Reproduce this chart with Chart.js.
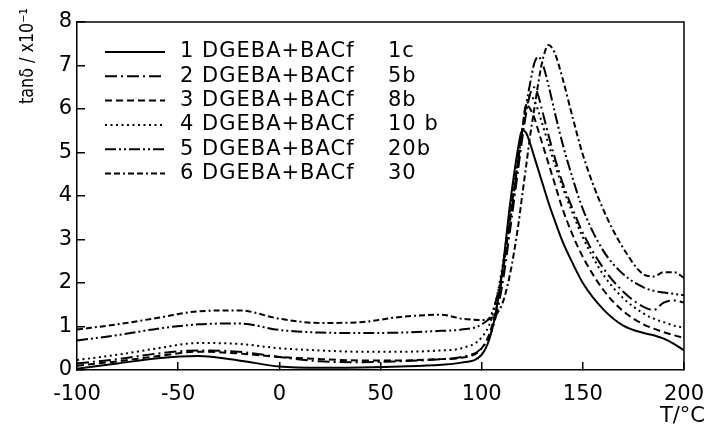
<!DOCTYPE html>
<html>
<head>
<meta charset="utf-8">
<script src="https://cdn.jsdelivr.net/npm/chart.js@4.4.1/dist/chart.umd.min.js"></script>
<style>
    html, body { margin: 0; padding: 0; background: #fff; }
    canvas { display: block; }
</style>
</head>
<body>
<canvas id="tanDeltaChart" width="708" height="436"></canvas>
<script>
const temps = [-100, -80, -60, -40, -20, 0, 20, 40, 60, 80, 90, 100, 105, 110, 114, 118, 120, 122, 124, 126,
    128, 130, 133, 136, 140, 145, 150, 160, 170, 180, 185, 190, 195, 200];

// tan delta (x10^-1) for each sample
const tan1c = [0.03, 0.15, 0.27, 0.32, 0.22, 0.08, 0.05, 0.06, 0.08, 0.12, 0.17, 0.35, 0.9, 2.2, 3.8, 5.1, 5.52, 5.45, 5.2, 4.9,
    4.6, 4.3, 3.85, 3.45, 2.95, 2.45, 2.0, 1.4, 1.02, 0.85, 0.8, 0.72, 0.6, 0.45];
const tan5b = [0.15, 0.25, 0.38, 0.45, 0.42, 0.3, 0.2, 0.18, 0.2, 0.25, 0.3, 0.5, 0.9, 1.9, 3.2, 4.6, 5.3, 5.9, 6.35, 6.5,
    6.3, 5.95, 5.4, 4.9, 4.3, 3.7, 3.15, 2.35, 1.8, 1.45, 1.38, 1.55, 1.6, 1.55];
const tan8b = [0.1, 0.2, 0.32, 0.42, 0.38, 0.3, 0.25, 0.22, 0.22, 0.25, 0.28, 0.5, 1.0, 2.1, 3.5, 4.8, 5.5, 6.1, 6.0, 5.8,
    5.5, 5.2, 4.75, 4.3, 3.7, 3.1, 2.6, 1.85, 1.35, 1.05, 0.95, 0.87, 0.8, 0.74];
const tan10b = [0.23, 0.35, 0.5, 0.62, 0.6, 0.5, 0.45, 0.42, 0.42, 0.45, 0.5, 0.75, 1.2, 2.3, 3.6, 4.9, 5.5, 6.0, 6.3, 6.2,
    5.95, 5.65, 5.2, 4.75, 4.2, 3.6, 3.05, 2.2, 1.65, 1.3, 1.18, 1.1, 1.02, 0.97];
const tan20b = [0.68, 0.8, 0.95, 1.05, 1.07, 0.92, 0.86, 0.85, 0.86, 0.9, 0.93, 1.05, 1.3, 2.2, 3.4, 4.8, 5.5, 6.1, 6.6, 7.05,
    7.2, 7.05, 6.55, 5.95, 5.2, 4.4, 3.7, 2.75, 2.2, 1.9, 1.82, 1.78, 1.75, 1.72];
const tan30 = [0.93, 1.05, 1.2, 1.35, 1.37, 1.18, 1.08, 1.1, 1.22, 1.27, 1.18, 1.15, 1.2, 1.5, 2.2, 3.3, 4.0, 4.7, 5.4, 6.0,
    6.6, 7.1, 7.47, 7.3, 6.7, 5.8, 4.95, 3.7, 2.8, 2.2, 2.15, 2.25, 2.25, 2.12];

const sampleNames = ["1 DGEBA+BACf", "2 DGEBA+BACf", "3 DGEBA+BACf", "4 DGEBA+BACf", "5 DGEBA+BACf", "6 DGEBA+BACf"];
const cureCodes = ["1c", "5b", "8b", "10 b", "20b", "30"];
const xTicks = [-100, -50, 0, 50, 100, 150, 200];
const yTicks = [0, 1, 2, 3, 4, 5, 6, 7, 8];

const seriesValues = [tan1c, tan5b, tan8b, tan10b, tan20b, tan30];
// line styles: solid, long dash-dot, dashed, dotted, dash-dot-dot, short dash-dot
const dashes = [[], [12, 4, 2, 4], [7, 4], [2, 3.5], [11, 3, 2, 3, 2, 3], [6, 3, 6, 3, 2, 3]];

const FONT = '"DejaVu Sans", "Liberation Sans", sans-serif';

// frame, legend and axis titles
const decorPlugin = {
    id: 'decor',
    afterDraw(chart) {
        const ctx = chart.ctx;
        const a = chart.chartArea;
        ctx.save();
        ctx.strokeStyle = '#000';
        ctx.fillStyle = '#000';
        ctx.lineWidth = 1.5;
        ctx.beginPath();
        ctx.moveTo(a.left, a.top);
        ctx.lineTo(a.right, a.top);
        ctx.lineTo(a.right, a.bottom);
        ctx.stroke();

        ctx.font = '21px ' + FONT;
        ctx.letterSpacing = '1px';
        ctx.textBaseline = 'middle';
        chart.data.datasets.forEach((ds, i) => {
            const y = 52 + i * 24.3;
            ctx.lineWidth = 2;
            ctx.setLineDash(ds.borderDash);
            ctx.beginPath();
            ctx.moveTo(105, y);
            ctx.lineTo(165, y);
            ctx.stroke();
            ctx.setLineDash([]);
            ctx.fillText(sampleNames[i], 180, y);
            ctx.fillText(cureCodes[i], 388, y);
        });
        ctx.letterSpacing = '0px';

        // x title
        ctx.textAlign = 'right';
        ctx.font = '21px ' + FONT;
        ctx.fillText("T/\u00B0C", 705, 417);

        // y title, a bit condensed like the figure's lettering
        ctx.translate(28, 104);
        ctx.rotate(-Math.PI / 2);
        ctx.textAlign = 'left';
        ctx.font = '19px ' + FONT;
        const yTitle = "tan\u03B4 / x10\u207B\u00B9";
        const w = ctx.measureText(yTitle).width;
        ctx.scale(Math.min(1, 96 / w), 1);
        ctx.fillText(yTitle, 0, 0);
        ctx.restore();
    }
};

window.onload = function() {
    const datasets = seriesValues.map((vals, i) => ({
        label: sampleNames[i] + " " + cureCodes[i],
        data: temps.map((t, j) => ({ x: t, y: vals[j] })),
        borderColor: "#000",
        borderWidth: 2,
        borderDash: dashes[i],
        pointRadius: 0,
        fill: false,
        cubicInterpolationMode: 'monotone'
    }));

    const ctx = document.getElementById("tanDeltaChart").getContext('2d');
    new Chart(ctx, {
        type: 'line',
        data: { datasets: datasets },
        options: {
            responsive: false,
            maintainAspectRatio: false,
            animation: false,
            devicePixelRatio: 1,
            layout: { padding: { top: 22, right: 24, left: 0, bottom: 0 } },
            plugins: { legend: { display: false }, tooltip: { enabled: false } },
            scales: {
                x: {
                    type: 'linear',
                    min: -100,
                    max: 200,
                    afterBuildTicks: (scale) => { scale.ticks = xTicks.map(v => ({ value: v })); },
                    afterFit: (scale) => {
                        scale.height = 66;
                        scale.paddingLeft = 0;
                        scale.paddingRight = 0;
                    },
                    ticks: { color: "#000", font: { family: FONT, size: 21 }, padding: 20, maxRotation: 0 },
                    grid: { drawOnChartArea: false, tickLength: -8, color: "#000", lineWidth: 1.5 },
                    border: { color: "#000", width: 1.5 }
                },
                y: {
                    min: 0,
                    max: 8,
                    afterBuildTicks: (scale) => { scale.ticks = yTicks.map(v => ({ value: v })); },
                    afterFit: (scale) => {
                        scale.width = 77;
                        scale.paddingTop = 0;
                        scale.paddingBottom = 0;
                    },
                    ticks: { color: "#000", font: { family: FONT, size: 21 }, padding: 13 },
                    grid: { drawOnChartArea: false, tickLength: -8, color: "#000", lineWidth: 1.5 },
                    border: { color: "#000", width: 1.5 }
                }
            }
        },
        plugins: [decorPlugin]
    });
};
</script>
</body>
</html>
